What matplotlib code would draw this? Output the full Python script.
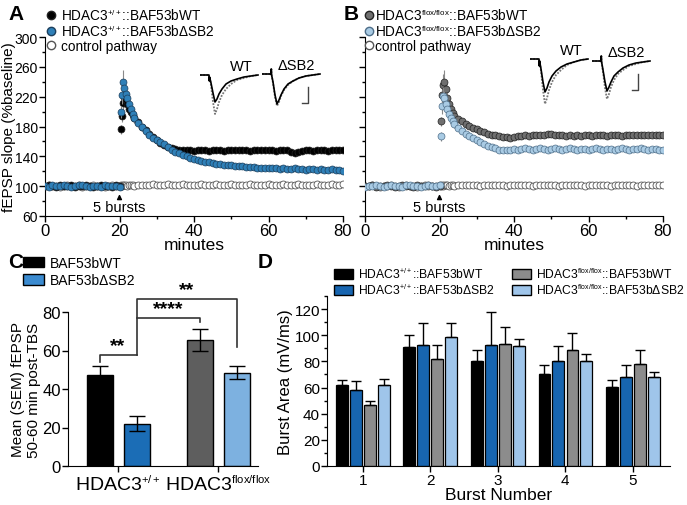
import matplotlib
matplotlib.use("Agg")
import matplotlib.pyplot as plt
import matplotlib._mathtext as mathtext_internals
from matplotlib.lines import Line2D
from matplotlib.patches import Patch
from matplotlib.ticker import MultipleLocator

plt.rcParams['font.family'] = ['Liberation Sans', 'DejaVu Sans']
plt.rcParams['mathtext.fontset'] = 'custom'
plt.rcParams['mathtext.rm'] = 'Liberation Sans'
plt.rcParams['mathtext.it'] = 'Liberation Sans'
plt.rcParams['mathtext.default'] = 'regular'
# smaller superscripts, like the genotype labels of the original
mathtext_internals.SHRINK_FACTOR = 0.58

# =========================================================
# data
# =========================================================

# time course (minutes)
t_base = [0, 1, 2, 3, 4, 5, 6, 7, 8, 9, 10, 11, 12, 13, 14, 15, 16, 17, 18, 19, 20]
t_post = [20.33, 20.67, 21, 21.33, 21.67, 22, 22.5, 23, 23.5, 24,
          25, 26, 27, 28, 29, 30, 31, 32, 33, 34,
          35, 36, 37, 38, 39, 40, 41, 42, 43, 44,
          45, 46, 47, 48, 49, 50, 51, 52, 53, 54,
          55, 56, 57, 58, 59, 60, 61, 62, 63, 64,
          65, 66, 67, 68, 69, 70, 71, 72, 73, 74,
          75, 76, 77, 78, 79, 80]

# panel A: HDAC3+/+
a_wt_base = [100, 101, 100, 99, 101, 100, 100, 101, 99, 100, 100, 101, 100, 99, 100, 101, 100, 100, 99, 101, 100]
a_wt_post = [176, 194, 212, 220, 216, 210, 204, 199, 195, 191,
             186, 180, 175, 170, 166, 162, 158, 155, 153, 151,
             150, 149, 148, 149, 148, 147, 148, 149, 148, 147,
             148, 149, 148, 147, 148, 149, 148, 148, 149, 148,
             147, 148, 149, 148, 148, 149, 148, 147, 148, 149,
             148, 146, 145, 146, 147, 148, 148, 147, 148, 149,
             148, 147, 148, 149, 148, 148]
a_wt_sem_post = [6, 8, 12, 14, 10, 9, 8, 7, 6, 6] + [4] * 56

a_sb2_base = [100, 99, 101, 100, 100, 102, 100, 99, 100, 101, 101, 100, 99, 100, 100, 99, 101, 100, 100, 100, 99]
a_sb2_post = [200, 222, 240, 232, 224, 218, 210, 203, 197, 192,
              185, 179, 174, 169, 165, 162, 159, 156, 152, 149,
              146, 144, 142, 140, 138, 137, 135, 134, 133, 132,
              131, 130, 130, 129, 128, 128, 127, 127, 127, 126,
              126, 126, 125, 125, 125, 124, 124, 124, 123, 124,
              123, 123, 124, 123, 123, 122, 123, 123, 122, 123,
              122, 122, 123, 122, 122, 121]
a_sb2_sem_post = [8, 12, 16, 12, 10, 9, 8, 7, 6, 6] + [3] * 56

a_ctl_base = [100, 101, 100, 100, 99, 100, 101, 100, 100, 101, 99, 100, 100, 101, 100, 100, 99, 100, 101, 100, 100]
a_ctl_post = [101, 100, 101, 102, 101, 100, 101, 102, 101, 100,
              101, 102, 101, 102, 103, 102, 101, 102, 103, 102,
              101, 102, 103, 102, 101, 102, 102, 103, 102, 101,
              102, 103, 102, 101, 102, 103, 102, 102, 101, 102,
              103, 102, 101, 102, 102, 103, 102, 101, 102, 103,
              102, 101, 102, 103, 102, 102, 101, 102, 103, 102,
              101, 102, 103, 102, 102, 103]

# panel B: HDAC3flox/flox
b_wt_base = [100, 100, 101, 99, 100, 100, 101, 100, 99, 100, 101, 100, 100, 99, 101, 100, 100, 101, 100, 99, 100]
b_wt_post = [187, 222, 236, 240, 230, 218, 210, 204, 198, 194,
             190, 187, 184, 181, 178, 176, 174, 172, 170, 169,
             168, 167, 166, 166, 165, 166, 167, 167, 168, 167,
             168, 169, 168, 169, 170, 170, 169, 168, 168, 167,
             168, 167, 168, 167, 168, 168, 167, 168, 169, 168,
             167, 168, 169, 168, 167, 168, 169, 168, 168, 169,
             168, 169, 168, 169, 168, 169]
b_wt_sem_post = [6, 10, 14, 16, 12, 10, 8, 7, 6, 6] + [4] * 56

b_sb2_base = [99, 100, 100, 101, 100, 99, 100, 101, 100, 100, 99, 101, 102, 100, 100, 99, 100, 101, 100, 100, 101]
b_sb2_post = [167, 207, 221, 218, 210, 204, 197, 191, 187, 183,
              178, 174, 170, 167, 165, 162, 159, 156, 154, 152,
              151, 149, 149, 148, 149, 150, 149, 150, 151, 150,
              149, 150, 151, 150, 149, 150, 151, 150, 149, 150,
              151, 150, 149, 150, 150, 149, 150, 151, 150, 149,
              150, 150, 149, 150, 151, 150, 149, 150, 150, 151,
              150, 149, 150, 150, 149, 149]
b_sb2_sem_post = [6, 10, 12, 10, 8, 7, 6, 5, 5, 5] + [3] * 56

b_ctl_base = [100, 100, 101, 100, 99, 100, 100, 101, 100, 99, 100, 101, 100, 100, 99, 100, 101, 100, 100, 100, 101]
b_ctl_post = [100, 101, 100, 101, 102, 101, 100, 101, 101, 100,
              101, 102, 101, 101, 102, 101, 100, 101, 102, 101,
              101, 102, 101, 100, 101, 102, 101, 101, 102, 101,
              100, 101, 102, 101, 101, 102, 101, 100, 101, 102,
              101, 101, 102, 101, 100, 101, 102, 101, 101, 102,
              101, 100, 101, 102, 101, 101, 102, 101, 100, 101,
              102, 101, 101, 102, 101, 102]

ab_yticks = [60, 100, 140, 180, 220, 260, 300]
ab_yminor = [80, 120, 160, 200, 240, 280]

# example traces (inset), sample index and amplitude
tr_t = [0, 9, 9.3, 9.6, 11, 13, 15, 17, 19, 22, 26, 31, 37, 44, 51, 58]
a_tr_wt_pre = [0, 0, -6, -2, -8, -18, -27, -24, -19, -14, -9, -6, -4, -2, -1, 0]
a_tr_wt_post = [0, 0, -6, -2, -10, -27, -39, -34, -27, -20, -14, -9, -5, -3, -1, 0]
a_tr_sb2_pre = [0, 0, 5, -1, -8, -21, -30, -26, -21, -15, -10, -7, -4, -2, -1, 0]
a_tr_sb2_post = [0, 0, 5, -1, -9, -23, -32, -28, -22, -16, -11, -7, -4, -2, -1, 0]
b_tr_wt_pre = [0, 0, -7, -2, -10, -23, -33, -29, -23, -17, -12, -8, -5, -3, -1, 0]
b_tr_wt_post = [0, 0, -7, -2, -12, -31, -45, -39, -31, -23, -16, -11, -6, -3, -1, 0]
b_tr_sb2_pre = [0, 0, 5, -1, -9, -21, -30, -26, -21, -15, -11, -7, -4, -2, -1, 0]
b_tr_sb2_post = [0, 0, 5, -1, -11, -27, -38, -33, -26, -19, -13, -9, -5, -3, -1, 0]
scalebar_x = [40, 46, 46]
scalebar_y = [-29, -29, -13]

# panel C: mean fEPSP 50-60 min post-TBS
c_groups = ['HDAC3$^{+/+}$', 'HDAC3$^{flox/flox}$']
c_wt_mean = [47.4, 65.6]
c_wt_sem = [4.4, 5.8]
c_sb2_mean = [22.0, 48.5]
c_sb2_sem = [3.9, 3.5]

# panel D: burst area
d_bursts = [1, 2, 3, 4, 5]
d_labels = ['HDAC3$^{+/+}$::BAF53bWT', 'HDAC3$^{+/+}$::BAF53b\u0394SB2',
            'HDAC3$^{flox/flox}$::BAF53bWT', 'HDAC3$^{flox/flox}$::BAF53b\u0394SB2']
d_wt_ctl = [62, 91, 80, 70, 60.5]
d_wt_ctl_err = [4, 9.5, 8.5, 7, 5.5]
d_sb2_ctl = [58, 92.5, 92.5, 80.5, 68]
d_sb2_ctl_err = [7, 16.5, 25.5, 11.5, 9]
d_wt_flox = [47, 82, 93, 89, 78]
d_wt_flox_err = [3, 10.5, 13, 12.5, 11]
d_sb2_flox = [62, 99, 91.5, 80, 68]
d_sb2_flox_err = [4.5, 10, 6, 6, 4]

# =========================================================
# figure
# =========================================================

W, H = 687, 506
fig = plt.figure(figsize=(W / 100, H / 100), dpi=100)


def px_rect(x0, y0, w, h):
    return [x0 / W, 1 - (y0 + h) / H, w / W, h / H]


def style_axes(ax):
    for s in ['top', 'right']:
        ax.spines[s].set_visible(False)
    ax.tick_params(direction='out', length=4, width=1, labelsize=11)
    ax.tick_params(which='minor', direction='out', length=2.5, width=1)


def timecourse(ax, base_wt, post_wt, sem_wt, base_sb2, post_sb2, sem_sb2,
               base_ctl, post_ctl, col_wt, col_sb2, edge_sb2):
    t_all = t_base + t_post
    ax.plot(t_all, base_ctl + post_ctl, 'o', ms=5, mfc='white', mec='#555555',
            mew=0.6, zorder=2)
    ax.errorbar(t_post, post_wt, yerr=sem_wt, fmt='none', ecolor='#8a8a8a',
                elinewidth=0.8, zorder=3)
    ax.plot(t_all, base_wt + post_wt, 'o', ms=5, mfc=col_wt,
            mec='#222222', mew=0.5, zorder=4)
    ax.errorbar(t_post, post_sb2, yerr=sem_sb2, fmt='none', ecolor='#8a8a8a',
                elinewidth=0.8, zorder=5)
    ax.plot(t_all, base_sb2 + post_sb2, 'o', ms=5, mfc=col_sb2,
            mec=edge_sb2, mew=0.5, zorder=6)
    ax.set_xlim(0, 80)
    ax.set_ylim(60, 300)
    ax.xaxis.set_major_locator(MultipleLocator(20))
    ax.xaxis.set_minor_locator(MultipleLocator(10))
    ax.set_yticks(ab_yticks)
    ax.set_yticks(ab_yminor, minor=True)
    style_axes(ax)
    ax.tick_params(axis='x', labelsize=12, pad=1)
    ax.set_xlabel('minutes', fontsize=12.5, labelpad=-1)
    ax.annotate('', xy=(20, 93), xytext=(20, 80),
                arrowprops=dict(arrowstyle='-|>', color='black', lw=1,
                                mutation_scale=7))
    ax.text(20, 72, '5 bursts', ha='center', va='center', fontsize=10.5)


def trace_inset(rect, pre, post, label, bar=False):
    ia = fig.add_axes(px_rect(*rect))
    ia.plot(tr_t, post, color='#777777', lw=1.3, ls=(0, (1, 0.8)))
    ia.plot(tr_t, pre, color='black', lw=1.2)
    if bar:
        ia.plot(scalebar_x, scalebar_y, color='#444444', lw=1)
    ia.text(53, 9, label, ha='right', va='center', fontsize=10.5)
    ia.set_xlim(0, 60)
    ia.set_ylim(-50, 14)
    ia.axis('off')


# ---------------- panel A ----------------
axA = fig.add_axes(px_rect(45, 38, 298, 179))
timecourse(axA, a_wt_base, a_wt_post, a_wt_sem_post, a_sb2_base, a_sb2_post,
           a_sb2_sem_post, a_ctl_base, a_ctl_post, 'black', '#2f80b8', '#1d3f5c')
axA.tick_params(axis='y', labelsize=10, pad=1)
axA.set_ylabel('fEPSP slope (%baseline)', fontsize=11)
axA.yaxis.set_label_coords(-29 / 298, 0.5)
hA = [Line2D([], [], marker='o', ls='none', ms=6, mfc='black', mec='#222222'),
      Line2D([], [], marker='o', ls='none', ms=6, mfc='#2f80b8', mec='#1d3f5c'),
      Line2D([], [], marker='o', ls='none', ms=6, mfc='white', mec='#555555')]
fig.legend(hA, ['HDAC3$^{+/+}$::BAF53bWT', 'HDAC3$^{+/+}$::BAF53b\u0394SB2',
                'control pathway'],
           loc='upper left', bbox_to_anchor=(46 / W, 1 - 8 / H), frameon=False,
           fontsize=9.8, handlelength=0.8, handletextpad=0.3,
           labelspacing=0.0, borderpad=0, borderaxespad=0)
trace_inset((200, 62, 60, 64), a_tr_wt_pre, a_tr_wt_post, 'WT')
trace_inset((262, 61, 60, 64), a_tr_sb2_pre, a_tr_sb2_post, '\u0394SB2', bar=True)

# ---------------- panel B ----------------
axB = fig.add_axes(px_rect(365, 38, 298, 179))
timecourse(axB, b_wt_base, b_wt_post, b_wt_sem_post, b_sb2_base, b_sb2_post,
           b_sb2_sem_post, b_ctl_base, b_ctl_post, '#6f6f6f', '#a9cbe4', '#4f6f8a')
axB.tick_params(axis='y', labelleft=False)
hB = [Line2D([], [], marker='o', ls='none', ms=6, mfc='#6f6f6f', mec='#222222'),
      Line2D([], [], marker='o', ls='none', ms=6, mfc='#a9cbe4', mec='#4f6f8a'),
      Line2D([], [], marker='o', ls='none', ms=6, mfc='white', mec='#555555')]
fig.legend(hB, ['HDAC3$^{flox/flox}$::BAF53bWT', 'HDAC3$^{flox/flox}$::BAF53b\u0394SB2',
                'control pathway'],
           loc='upper left', bbox_to_anchor=(365 / W, 1 - 8 / H), frameon=False,
           fontsize=9.8, handlelength=0.6, handletextpad=0.15,
           labelspacing=0.0, borderpad=0, borderaxespad=0)
trace_inset((530, 46, 60, 64), b_tr_wt_pre, b_tr_wt_post, 'WT')
trace_inset((592, 48, 60, 64), b_tr_sb2_pre, b_tr_sb2_post, '\u0394SB2', bar=True)

# ---------------- panel C ----------------
axC = fig.add_axes(px_rect(68, 313, 190, 154))
xg = [0, 1]
bw = 0.26
off = 0.185
x_wt = [x - off for x in xg]
x_sb2 = [x + off for x in xg]
axC.bar(x_wt, c_wt_mean, width=bw, color=['black', '#5e5e5e'], edgecolor='black',
        linewidth=1, zorder=2)
axC.bar(x_sb2, c_sb2_mean, width=bw, color=['#1b6db6', '#7db1e0'], edgecolor='black',
        linewidth=1, zorder=2)
axC.errorbar(x_wt, c_wt_mean, yerr=c_wt_sem, fmt='none', ecolor='black', elinewidth=1,
             capsize=6, capthick=1, zorder=3)
axC.errorbar(x_sb2, c_sb2_mean, yerr=c_sb2_sem, fmt='none', ecolor='black',
             elinewidth=1, capsize=6, capthick=1, zorder=3)
axC.set_xlim(-0.5, 1.4)
axC.set_ylim(0, 80)
style_axes(axC)
axC.set_xticks(xg)
axC.set_xticklabels(c_groups)
axC.yaxis.set_major_locator(MultipleLocator(20))
axC.tick_params(axis='y', labelsize=12, pad=1)
axC.tick_params(axis='x', labelsize=14, pad=2)
axC.set_ylabel('Mean (SEM) fEPSP\n50-60 min post-TBS', fontsize=11,
               linespacing=1.15)
axC.yaxis.set_label_coords(-27 / 190, 0.5)

# significance brackets: (x1, x2, y, left leg bottom, right leg bottom, label)
sig = [(x_wt[0], x_sb2[0], 57.7, 53.9, 57.7, '**'),
       (x_sb2[0], x_wt[1], 76.7, 76.7, 74.6, '****'),
       (x_sb2[0], x_sb2[1], 86.8, 57.7, 61.8, '**')]
for x1, x2, y, yl, yr, lab in sig:
    axC.plot([x1, x1, x2, x2], [yl, y, y, yr], color='#333333', lw=1.2,
             clip_on=False)
    axC.text((x1 + x2) / 2, y + 0.5, lab, ha='center', va='bottom', fontsize=14,
             fontweight='bold', clip_on=False)

hC = [Patch(facecolor='black', edgecolor='black'),
      Patch(facecolor='#3b8bd0', edgecolor='black')]
fig.legend(hC, ['BAF53bWT', 'BAF53b\u0394SB2'], loc='upper left',
           bbox_to_anchor=(23 / W, 1 - 257 / H), frameon=False, fontsize=10,
           handlelength=1.5, handleheight=0.8, handletextpad=0.4,
           labelspacing=0.25, borderpad=0, borderaxespad=0)

# ---------------- panel D ----------------
axD = fig.add_axes(px_rect(327, 297, 343, 170))
d_series = [(d_wt_ctl, d_wt_ctl_err, 'black'),
            (d_sb2_ctl, d_sb2_ctl_err, '#1765b0'),
            (d_wt_flox, d_wt_flox_err, '#8c8c8c'),
            (d_sb2_flox, d_sb2_flox_err, '#9fc5ea')]
d_off = [-0.31, -0.105, 0.105, 0.31]
for (vals, errs, col), o in zip(d_series, d_off):
    xs = [b + o for b in d_bursts]
    axD.bar(xs, vals, width=0.175, color=col, edgecolor='black', linewidth=0.9,
            zorder=2)
    axD.errorbar(xs, vals, yerr=[[0] * len(errs), errs], fmt='none', ecolor='black',
                 elinewidth=1, capsize=3.5, capthick=1, zorder=3)
axD.set_xlim(0.47, 5.55)
axD.set_ylim(0, 130)
axD.set_xticks(d_bursts)
axD.set_yticks([0, 20, 40, 60, 80, 100, 120])
axD.yaxis.set_minor_locator(MultipleLocator(10))
style_axes(axD)
axD.tick_params(axis='both', labelsize=11, pad=1)
axD.set_xlabel('Burst Number', fontsize=12.5, labelpad=0)
axD.set_ylabel('Burst Area (mV/ms)', fontsize=12, labelpad=1)
hD = [Patch(facecolor=c, edgecolor='black') for _, _, c in d_series]
fig.legend(hD, d_labels, loc='upper left', ncol=2,
           bbox_to_anchor=(334 / W, 1 - 268 / H), frameon=False, fontsize=8.7,
           handlelength=1.6, handleheight=0.9, handletextpad=0.4,
           labelspacing=0.15, columnspacing=1.4, borderpad=0, borderaxespad=0)

# panel letters
for x, y, s in [(8, 14, 'A'), (344, 14, 'B'), (8, 262, 'C'), (258, 262, 'D')]:
    fig.text(x / W, 1 - y / H, s, fontsize=15, fontweight='bold', va='center')

fig.savefig('out.png', dpi=100)
